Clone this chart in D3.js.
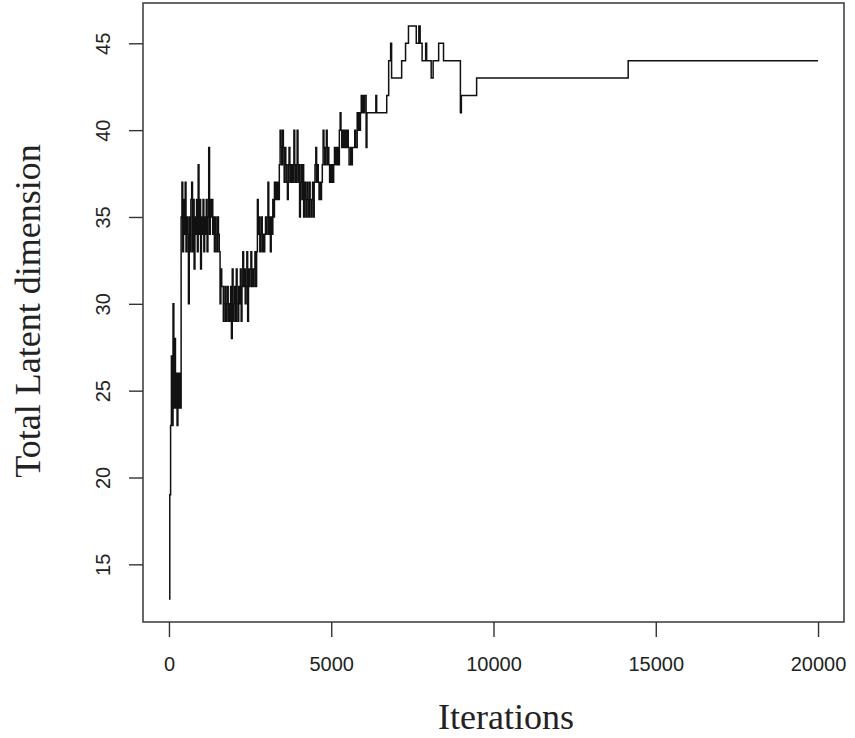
<!DOCTYPE html>
<html>
<head>
<meta charset="utf-8">
<script src="https://cdn.jsdelivr.net/npm/d3@7"></script>
<style>
  body { margin: 0; background: #fff; }
  svg { display: block; }
  .tick text { font-family: "Liberation Sans", Arial, sans-serif; font-size: 20px; fill: #222; }
  .title { font-family: "Liberation Serif", "Times New Roman", serif; font-size: 36px; fill: #222; }
</style>
</head>
<body>
<svg width="855" height="738"></svg>
<script>
const step = 25
const denseDims = [
  13, 19, 23, 27, 23, 30, 24, 28, 24, 26,
  23, 26, 24, 26, 24, 35, 37, 33, 36, 34,
  37, 33, 35, 34, 30, 35, 33, 36, 37, 33,
  36, 32, 35, 34, 36, 33, 38, 34, 36, 32,
  35, 34, 36, 33, 35, 34, 36, 33, 35, 39,
  34, 36, 35, 36, 34, 35, 33, 35, 34, 33,
  35, 34, 33, 30, 32, 31, 31, 29, 30, 31,
  29, 30, 31, 29, 30, 29, 31, 28, 32, 29,
  30, 31, 29, 32, 30, 29, 31, 30, 32, 29,
  31, 33, 31, 32, 30, 31, 33, 29, 32, 31,
  32, 33, 31, 32, 31, 32, 33, 31, 33, 36,
  34, 35, 33, 34, 35, 33, 34, 33, 34, 35,
  34, 35, 37, 34, 35, 33, 35, 34, 36, 35,
  37, 36, 37, 36, 37, 36, 38, 40, 39, 38,
  40, 39, 37, 39, 38, 37, 36, 38, 39, 37,
  38, 37, 38, 37, 40, 38, 37, 38, 40, 37,
  38, 35, 37, 38, 36, 38, 35, 37, 36, 35,
  37, 36, 35, 37, 36, 35, 36, 37, 35, 37,
  38, 39, 37, 38, 37, 36, 37, 36, 37, 38,
  40, 39, 38, 39, 40, 38, 39, 38, 37, 38,
  37, 38, 37, 38, 39, 38, 39, 38, 39, 38,
  40, 41, 40, 39, 40, 39, 40, 39, 40, 39,
  40, 39, 38, 38, 39, 38, 39, 39, 39, 40,
  39, 39, 41, 40, 41, 40, 41, 42, 41, 42,
  41, 42, 42, 39, 41, 41, 41, 41, 41, 41,
  41, 41, 41, 41, 41, 42, 41, 41, 41, 41,
  41
]
// later change points [iteration, dimension]
const laterSteps = [
  [6710, 42], [6770, 44], [6830, 45], [6860, 43], [7170, 44],
  [7290, 45], [7380, 46], [7620, 45], [7700, 46], [7740, 45],
  [7800, 44], [7910, 45], [7940, 44], [8080, 43], [8140, 44],
  [8310, 45], [8460, 44], [8980, 41], [9010, 42], [9480, 43],
  [14150, 44], [20000, 44]
]
const xTicks = [0, 5000, 10000, 15000, 20000]
const yTicks = [15, 20, 25, 30, 35, 40, 45]

function drawChart(){
    const svg = d3.select("svg")
    const box = { left: 143, right: 844, top: 3, bottom: 622 }

    const points = denseDims.map((v, i) => [i * step, v]).concat(laterSteps)

    const x = d3.scaleLinear().domain([-800, 20800]).range([box.left, box.right])
    const y = d3.scaleLinear().domain([11.68, 47.32]).range([box.bottom, box.top])

    // trace
    svg.append("path")
       .datum(points)
       .attr("fill", "none")
       .attr("stroke", "#111")
       .attr("stroke-width", 1.5)
       .attr("d", d3.line().x(d => x(d[0])).y(d => y(d[1])).curve(d3.curveStepAfter))

    // box
    svg.append("rect")
       .attr("x", box.left).attr("y", box.top)
       .attr("width", box.right - box.left).attr("height", box.bottom - box.top)
       .attr("fill", "none").attr("stroke", "#444").attr("stroke-width", 1.6)

    const gx = svg.append("g")
       .attr("transform", `translate(0,${box.bottom})`)
       .call(d3.axisBottom(x).tickValues(xTicks).tickFormat(d3.format("d")).tickSize(15).tickPadding(34))
    gx.select(".domain").remove()
    gx.selectAll(".tick line").attr("stroke", "#333").attr("stroke-width", 1.4)
    gx.selectAll(".tick text").attr("dy", 0).attr("y", 49)

    const gy = svg.append("g")
       .attr("transform", `translate(${box.left},0)`)
       .call(d3.axisLeft(y).tickValues(yTicks).tickSize(14))
    gy.select(".domain").remove()
    gy.selectAll(".tick line").attr("stroke", "#333").attr("stroke-width", 1.4)
    gy.selectAll(".tick text")
      .attr("transform", "rotate(-90)")
      .attr("text-anchor", "middle")
      .attr("x", 0).attr("y", -33).attr("dy", 0)

    svg.append("text").attr("class", "title")
       .attr("x", 506).attr("y", 729)
       .attr("text-anchor", "middle")
       .text("Iterations")

    svg.append("text").attr("class", "title")
       .attr("transform", "translate(40,311) rotate(-90)")
       .attr("text-anchor", "middle")
       .text("Total Latent dimension")
    return
}

drawChart()
</script>
</body>
</html>
